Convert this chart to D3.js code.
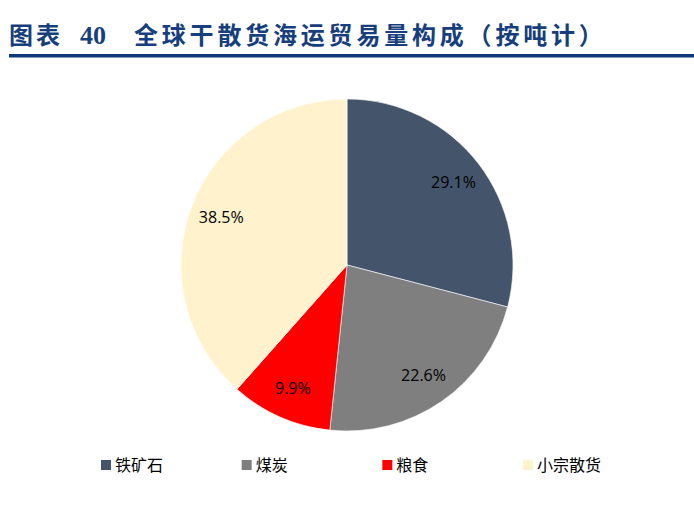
<!DOCTYPE html>
<html>
<head>
<meta charset="utf-8">
<script src="https://cdn.jsdelivr.net/npm/d3@7"></script>
<style>
  body { margin: 0; background: #fff; }
</style>
</head>
<body>
<script>
    // chart data
    let categories = ["铁矿石", "煤炭", "粮食", "小宗散货"];
    let shares = [29.1, 22.6, 9.9, 38.5];
    let labels = ["29.1%", "22.6%", "9.9%", "38.5%"];
    let colors = ["#44546A", "#7F7F7F", "#FF0000", "#FFF2CC"];

    let width = 694;
    let height = 511;
    let cx = 347, cy = 265, radius = 166;

    let svg = d3.select("body").append("svg")
        .attr("width", width)
        .attr("height", height)
        .style("background-color", "white");

    // title + rule
    let title = svg.append("g")
        .style("font-family", "'Noto Sans CJK SC', sans-serif")
        .style("font-weight", "bold")
        .attr("fill", "#173E7D");
    title.append("text").attr("x", 9).attr("y", 44)
        .style("font-size", "24px").style("letter-spacing", "3px")
        .text("图表");
    title.append("text").attr("x", 80).attr("y", 44)
        .style("font-size", "26px").style("font-family", "'Liberation Serif', serif")
        .text("40");
    title.append("text").attr("x", 134).attr("y", 44)
        .style("font-size", "24px").style("letter-spacing", "3.8px")
        .text("全球干散货海运贸易量构成（按吨计）");
    svg.append("rect")
        .attr("x", 9).attr("y", 54)
        .attr("width", width - 9).attr("height", 3.5)
        .attr("fill", "#0E3A7C");

    // pie
    let pie = d3.pie().sort(null).value(function (d) { return d; });
    let arcs = pie(shares);
    let arc = d3.arc().innerRadius(0).outerRadius(radius);
    let labelArc = d3.arc().innerRadius(radius * 0.81).outerRadius(radius * 0.81);

    let g = svg.append("g").attr("transform", "translate(" + cx + "," + cy + ")");
    g.selectAll("path")
        .data(arcs)
        .enter()
        .append("path")
        .attr("d", arc)
        .attr("fill", function (d, i) { return colors[i]; })
        .attr("stroke", "white")
        .attr("stroke-width", 0.6);

    g.selectAll("text")
        .data(arcs)
        .enter()
        .append("text")
        .attr("transform", function (d) { return "translate(" + labelArc.centroid(d) + ")"; })
        .attr("text-anchor", "middle")
        .attr("dy", "0.35em")
        .style("font-family", "'Open Sans', Lato, sans-serif")
        .style("font-size", "16px")
        .attr("fill", "#000")
        .text(function (d, i) { return labels[i]; });

    // legend
    let legendX = d3.scalePoint().domain(categories).range([101, 523]);
    let legend = svg.append("g").selectAll("g")
        .data(categories)
        .enter()
        .append("g")
        .attr("transform", function (d) { return "translate(" + legendX(d) + ",460)"; });
    legend.append("rect")
        .attr("width", 10).attr("height", 10)
        .attr("fill", function (d, i) { return colors[i]; });
    legend.append("text")
        .attr("x", 14).attr("y", 5).attr("dy", "0.36em")
        .style("font-family", "'Noto Sans CJK SC', sans-serif")
        .style("font-size", "16px")
        .attr("fill", "#000")
        .text(function (d) { return d; });
</script>
</body>
</html>
